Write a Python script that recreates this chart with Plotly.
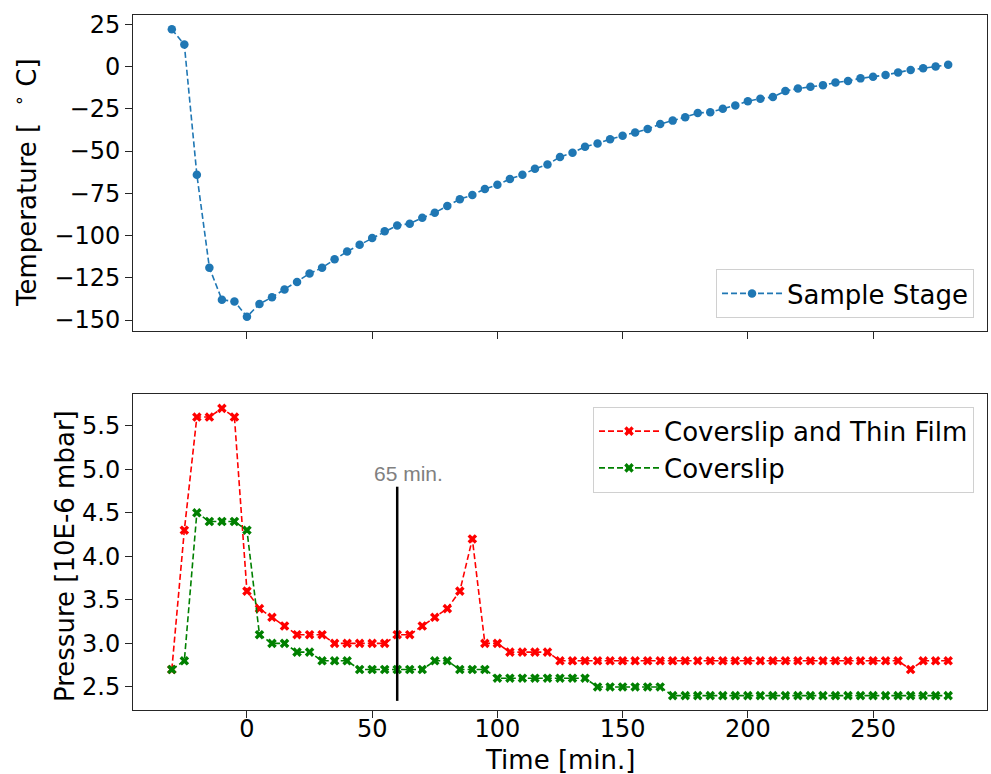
import plotly.graph_objects as go

# ---------------- data ----------------
time_min = list(range(-30, 281, 5))

temperature = [22, 13, -64, -119, -138, -139, -148,
               -140.5, -136.5, -132, -127.5, -122.5, -119, -114, -109.5, -105.5, -101.5,
               -97.5, -94, -93, -89.5, -86.5, -82.5, -78.5, -76, -72.5, -70,
               -66.5, -64, -60.5, -58, -53.5, -51, -47.5, -45.5, -43, -41,
               -39, -37, -34, -32, -30, -27.5, -27, -25, -23, -20.5,
               -19, -18, -14.5, -13, -12, -11, -9.5, -8.5, -7, -6,
               -5, -3.5, -2, -1, 0, 1]

p_film = [2.7, 4.3, 5.6, 5.6, 5.7, 5.6, 3.6,
          3.4, 3.3, 3.2, 3.1, 3.1, 3.1, 3.0, 3.0, 3.0, 3.0,
          3.0, 3.1, 3.1, 3.2, 3.3, 3.4, 3.6, 4.2, 3.0, 3.0,
          2.9, 2.9, 2.9, 2.9] + [2.8] * 28 + [2.7, 2.8, 2.8, 2.8]

p_slip = [2.7, 2.8, 4.5, 4.4, 4.4, 4.4, 4.3,
          3.1, 3.0, 3.0, 2.9, 2.9, 2.8, 2.8, 2.8, 2.7, 2.7,
          2.7, 2.7, 2.7, 2.7, 2.8, 2.8, 2.7, 2.7, 2.7] + [2.6] * 8 + [2.5] * 6 + [2.4] * 23

marker_time = [60]
marker_p = [2.34, 4.8]
marker_label = "65 min."

x_ticks = [0, 50, 100, 150, 200, 250]

# ---------------- figure ----------------
FONT = "DejaVu Sans"
FS = 26      # titles / legend
TFS = 24     # tick labels
AX = "#262626"
dash = "6px,3px"

fig = go.Figure()

fig.add_trace(go.Scatter(
    x=time_min, y=temperature, mode="lines+markers", name="Sample Stage",
    line=dict(color="#1f77b4", width=1.6, dash=dash),
    marker=dict(symbol="circle", size=8.5, color="#1f77b4"),
    xaxis="x", yaxis="y", legend="legend"))

fig.add_trace(go.Scatter(
    x=time_min, y=p_film, mode="lines+markers", name="Coverslip and Thin Film",
    line=dict(color="#ff0000", width=1.6, dash=dash),
    marker=dict(symbol="x", size=8.5, color="#ff0000"),
    xaxis="x2", yaxis="y2", legend="legend2"))

fig.add_trace(go.Scatter(
    x=time_min, y=p_slip, mode="lines+markers", name="Coverslip",
    line=dict(color="#008000", width=1.6, dash=dash),
    marker=dict(symbol="x", size=8.5, color="#008000"),
    xaxis="x2", yaxis="y2", legend="legend2"))

fig.add_trace(go.Scatter(
    x=marker_time * 2, y=marker_p, mode="lines", showlegend=False,
    line=dict(color="black", width=2.5),
    xaxis="x2", yaxis="y2", hoverinfo="skip"))

axis_common = dict(
    showline=True, linecolor=AX, linewidth=1, mirror=True,
    ticks="outside", ticklen=7, tickwidth=1, tickcolor=AX,
    showgrid=False, zeroline=False,
    tickfont=dict(family=FONT, size=TFS, color="black"),
)

legend_common = dict(bordercolor="#d0d0d0", borderwidth=1, bgcolor="white",
                     font=dict(family=FONT, size=FS, color="black"),
                     itemwidth=60, tracegroupgap=0)

fig.update_layout(
    width=991, height=774,
    margin=dict(l=133, r=4, t=15, b=64),
    paper_bgcolor="white", plot_bgcolor="white",
    font=dict(family=FONT, size=FS, color="black"),
    xaxis=dict(domain=[0, 1], anchor="y", range=[-45.5, 295.5],
               tickvals=x_ticks, showticklabels=False, **axis_common),
    yaxis=dict(domain=[0.5453, 1], anchor="x", range=[-156.5, 30.5],
               dtick=25, tick0=0, **axis_common),
    xaxis2=dict(domain=[0, 1], anchor="y2", range=[-45.5, 295.5],
                tickvals=x_ticks, matches="x", ticklabelstandoff=-10, **axis_common),
    yaxis2=dict(domain=[0, 0.4547], anchor="x2", range=[2.235, 5.865],
                dtick=0.5, tick0=0, tickformat=".1f", **axis_common),
    legend=dict(x=0.9848, y=0.564, xanchor="right", yanchor="bottom", **legend_common),
    legend2=dict(x=0.9848, y=0.4364, xanchor="right", yanchor="top", **legend_common),
    showlegend=True,
)

fig.add_annotation(text="Temperature [&nbsp; <sup>∘</sup> C]",
                   xref="paper", yref="paper",
                   x=-0.1265, y=0.7597, xanchor="center", yanchor="middle",
                   textangle=-90, showarrow=False,
                   font=dict(family=FONT, size=FS, color="black"))
fig.add_annotation(text="Pressure [10E-6 mbar]", xref="paper", yref="paper",
                   x=-0.0796, y=0.2216, xanchor="center", yanchor="middle",
                   textangle=-90, showarrow=False,
                   font=dict(family=FONT, size=FS, color="black"))
fig.add_annotation(text="Time [min.]", xref="paper", yref="paper",
                   x=0.5, y=-0.072, xanchor="center", yanchor="middle",
                   showarrow=False, font=dict(family=FONT, size=FS, color="black"))
fig.add_annotation(text=marker_label, xref="x2", yref="y2",
                   x=50, y=4.8, xanchor="left", yanchor="bottom",
                   showarrow=False,
                   font=dict(family="Liberation Sans", size=21, color="#808080"))

fig.write_html("out.html")
